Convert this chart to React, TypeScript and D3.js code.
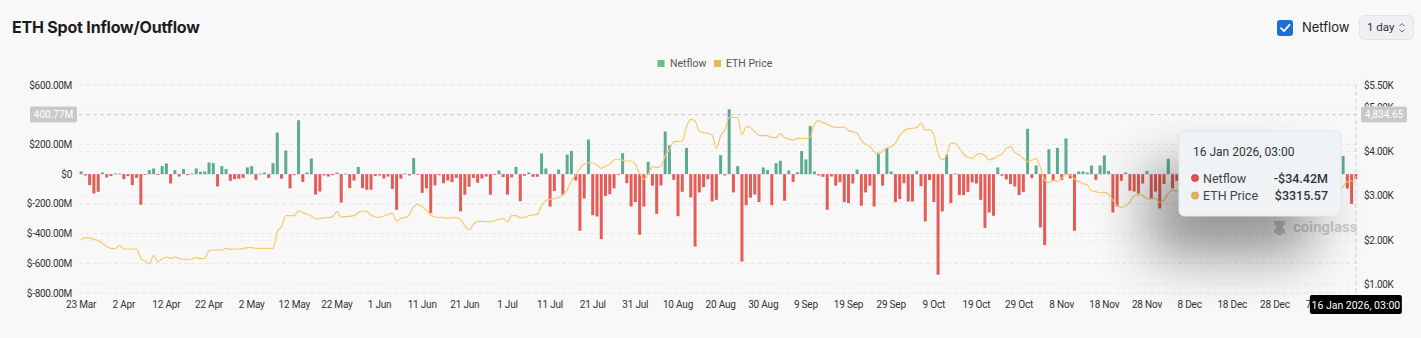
import React from 'react';
import * as d3 from 'd3';

// ---------- DATA ----------
const startDay = new Date(2025, 2, 23);
const endDay = new Date(2026, 0, 17);
const categories: Date[] = d3.timeDay.range(startDay, endDay); // 300 daily points

const xTickLabels = [
  '23 Mar', '2 Apr', '12 Apr', '22 Apr', '2 May', '12 May', '22 May', '1 Jun', '11 Jun', '21 Jun',
  '1 Jul', '11 Jul', '21 Jul', '31 Jul', '10 Aug', '20 Aug', '30 Aug', '9 Sep', '19 Sep', '29 Sep',
  '9 Oct', '19 Oct', '29 Oct', '8 Nov', '18 Nov', '28 Nov', '8 Dec', '18 Dec', '28 Dec', '7 Jan',
];

const leftTicks = [600, 400, 200, 0, -200, -400, -600, -800];
const rightTicks = [5500, 5000, 4000, 3000, 2000, 1000];

// Netflow in $M
const netflowMarApr = [
  18, -9, -74, -130, -119, 11, -22, -13, 4, 4,
  -34, -13, -74, -25, -206, -4, 27, 38, -3, 54,
  72, -63, 27, -16, 34, -7, 4, 38, 16, 18,
  78, 74, -83, 54, 34, -45, -34, -31, -25, 45,
  54, -38, 4, 11, -25, 74, 280, -31, 159, -96,
  -7, 363, -52, 11, 105, -137, -117, -9, -16, -7,
  11, -191, 3, -94, -43, 49, -94, -105, -105, -13,
  -9, -29, -16, -99, -240,
];
const netflowJunAug = [
  -31, 4, -9, 108, -4, -126, -96, -262, -76, -7,
  -61, -43, -54, -25, -251, -139, -85, -25, -58, -29,
  -16, -139, -4, 25, -20, -137, -22, 49, -182, -11,
  11, -18, -18, 139, 38, -218, -114, 31, -139, 132,
  157, -43, -381, -164, 233, -276, -285, -437, -146, -135,
  -96, -5, 141, -61, -218, -188, -408, -218, 83, -78,
  -267, -76, 287, 193, -38, -283, -119, 177, -157, -487,
  -123, -87, -34, -184, -173,
];
const netflowAugNov = [
  128, -9, 437, -123, 54, -588, -209, -159, -137, -188,
  45, 27, -209, 74, 90, -179, 25, -52, 13, 155,
  99, 323, 18, -9, -18, -240, -16, -78, -54, -188,
  -195, -63, 31, -213, -123, -78, -218, 144, -78, 175,
  18, -188, -168, -61, -184, -184, 22, -81, -318, -40,
  -188, -677, -251, 130, -195, 4, -141, -141, -119, -56,
  -63, -173, -361, -258, -280, 45, -11, -36, -67, -83,
  -141, -119, 305, -27, 58,
];
const netflowNovJan = [
  -359, -478, 168, -45, 177, -40, 240, -29, -381, 18,
  18, 11, 58, -38, 58, 126, 22, -258, -218, -45,
  11, -112, -117, -130, -63, 22, -164, -117, -231, -67,
  103, -96, -45, -34,
  -60, 25, -90, 40, -120, -35, 15, -75, -140, 30,
  -50, -20, 60, -95, -30, -110, 10, -45, -70, 35,
  -25, -15, 80, -55, -130, 20, -40, -85, 45, -65,
  -100, 120, -30, -150, 70, -20,
  -45, 123, -97, -200, -34.42,
];
const netflow = [...netflowMarApr, ...netflowJunAug, ...netflowAugNov, ...netflowNovJan];

// ETH price in $
const priceMarApr = [
  2019, 2056, 2049, 2019, 1989, 1929, 1853, 1816, 1808, 1876,
  1801, 1801, 1801, 1793, 1590, 1530, 1462, 1650, 1515, 1575,
  1620, 1590, 1620, 1583, 1568, 1568, 1575, 1605, 1583, 1590,
  1763, 1778, 1778, 1778, 1816, 1793, 1801, 1801, 1808, 1831,
  1831, 1816, 1816, 1816, 1816, 1816, 2192, 2305, 2553, 2553,
  2553, 2665, 2620, 2583, 2545, 2477, 2492, 2508, 2508, 2530,
  2643, 2523, 2530, 2538, 2553, 2620, 2658, 2643, 2568, 2523,
  2515, 2545, 2583, 2605, 2432,
];
const priceJunAug = [
  2493, 2508, 2583, 2756, 2808, 2756, 2666, 2568, 2523, 2515,
  2515, 2493, 2508, 2508, 2463, 2327, 2229, 2357, 2425, 2425,
  2417, 2417, 2440, 2470, 2485, 2417, 2553, 2553, 2500, 2508,
  2553, 2568, 2583, 2778, 2891, 2921, 2936, 2959, 3019, 3132,
  3335, 3470, 3621, 3718, 3749, 3741, 3696, 3621, 3666, 3711,
  3809, 3831, 3801, 3786, 3786, 3711, 3508, 3373, 3485, 3658,
  3635, 3673, 3906, 4034, 4222, 4229, 4237, 4560, 4726, 4688,
  4462, 4425, 4410, 4372, 4072,
];
const priceAugNov = [
  4357, 4485, 4771, 4771, 4763, 4387, 4560, 4537, 4447, 4365,
  4357, 4357, 4312, 4312, 4402, 4312, 4282, 4259, 4297, 4297,
  4297, 4327, 4613, 4696, 4650, 4620, 4568, 4545, 4545, 4553,
  4470, 4447, 4410, 4259, 4161, 4116, 3997, 3944, 4012, 4079,
  4109, 4184, 4357, 4463, 4515, 4523, 4537, 4643, 4485, 4492,
  4372, 3959, 3809, 3921, 4184, 4191, 4071, 3944, 3869, 3846,
  3921, 3951, 3906, 3809, 3839, 3899, 3944, 4071, 4109, 3974,
  3929, 3846, 3771, 3801, 3846,
];
const priceNovJan = [
  3640, 3357, 3297, 3357, 3320, 3395, 3485, 3470, 3380, 3320,
  3275, 3244, 3109, 3094, 3064, 3079, 3034, 2906, 2778, 2741,
  2778, 2868, 3004, 3034, 3004, 2929, 2929, 2944, 2853, 2906,
  3056, 3124, 3109, 3056,
  3050, 3120, 3300, 3320, 3250, 3080, 3110, 3100, 2970, 2950,
  2830, 2830, 2980, 2980, 2990, 3000, 2960, 2950, 2930, 2920,
  2940, 2950, 2940, 2970, 2970, 3000, 3120, 3120, 3140, 3230,
  3250, 3280, 3100, 3100, 3080, 3120,
  3110, 3206, 3320, 3335, 3315.57,
];
const price = [...priceMarApr, ...priceJunAug, ...priceAugNov, ...priceNovJan];

const tooltipTitle = '16 Jan 2026, 03:00';
const pointerLeftLabel = '400.77M';
const pointerRightLabel = '4,834.65';
const pointerLeftValue = 400.77;

// ---------- LAYOUT ----------
const W = 1421;
const H = 338;
const plot = { left: 79, right: 1358, top: 85, bottom: 293 };
const GREEN = '#5caa94';
const RED = '#e35c57';
const LINE = '#f6c96c';
const FONT = 'Roboto, "Noto Sans", sans-serif';

export default function App() {
  const idx = categories.map((_, i) => i);
  const x = d3.scaleBand<number>().domain(idx).range([plot.left, plot.right]).paddingInner(0.3).paddingOuter(0.15);
  const bw = x.bandwidth();
  const cx = (i: number) => (x(i) as number) + bw / 2;
  const yL = d3.scaleLinear().domain([-800, 600]).range([plot.bottom, plot.top]);
  const yR = d3.scaleLinear().domain([808, 5500]).range([plot.bottom, plot.top]);

  const linePath = d3
    .line<number>()
    .x((_, i) => cx(i))
    .y((d) => yR(d))
    .curve(d3.curveMonotoneX)(price.slice(0, categories.length)) as string;

  const fmtL = (v: number) => (v === 0 ? '$0' : `$${v.toFixed(2)}M`);
  const fmtR = (v: number) => `$${(v / 1000).toFixed(2)}K`;
  const last = categories.length - 1;
  const nv = netflow[last];
  const nvText = `${nv < 0 ? '-' : ''}$${Math.abs(nv).toFixed(2)}M`;
  const pvText = `$${price[last].toFixed(2)}`;
  const pointerY = yL(pointerLeftValue);
  const hoverX = cx(last);
  // tick labels fully hidden behind the pointer label box are not drawn
  const hiddenLeft = (t: number) => Math.abs(yL(t) - pointerY) < 8;

  const tip = { x: 1179, y: 131, w: 162, h: 85 };

  return (
    <svg width={W} height={H} style={{ position: 'absolute', left: 0, top: 0, display: 'block' }} fontFamily={FONT}>
      <defs>
        <filter id="tipShadow" x="-100%" y="-100%" width="300%" height="300%">
          <feGaussianBlur stdDeviation="28" />
        </filter>
        <clipPath id="r5clip">
          <rect x={1360} y={0} width={60} height={pointerY - 8} />
        </clipPath>
      </defs>
      <rect x={0} y={0} width={W} height={H} fill="#f8f8f8" />

      {/* Header */}
      <text x={12} y={33} fontFamily="Inter, sans-serif" fontWeight={700} fontSize={16} fill="#1d1d1f" letterSpacing={-0.2}>
        ETH Spot Inflow/Outflow
      </text>
      <rect x={1277} y={20} width={16} height={16} rx={3} fill="#1f6fd6" />
      <path d="M1281 28.2 L1284 31.2 L1289.5 24.8" fill="none" stroke="#fff" strokeWidth={1.8} strokeLinecap="round" strokeLinejoin="round" />
      <text x={1302} y={32} fontSize={13} fill="#222" fontFamily="Inter, sans-serif">Netflow</text>
      <rect x={1359.5} y={15.5} width={54} height={24} rx={5} fill="#eef0f3" stroke="#e0e3e7" />
      <text x={1367} y={31} fontSize={11.5} fill="#333" fontFamily="Roboto, sans-serif">1 day</text>
      <path d="M1399.5 26 L1402 23.5 L1404.5 26 M1399.5 29.5 L1402 32 L1404.5 29.5" fill="none" stroke="#666" strokeWidth={1} />

      {/* Legend */}
      <rect x={657.5} y={60} width={7} height={7} fill="#6cbf8a" />
      <text x={670} y={67} fontSize={10.5} fill="#555">Netflow</text>
      <rect x={714} y={60} width={7} height={7} fill="#eeb84c" />
      <text x={726} y={67} fontSize={10.5} fill="#555">ETH Price</text>

      {/* Grid */}
      {leftTicks.map((t) => (
        <line key={'gl' + t} x1={plot.left} x2={plot.right} y1={yL(t)} y2={yL(t)} stroke="#e6e6e6" strokeDasharray="4,3" />
      ))}
      {rightTicks.map((t) => (
        <line key={'gr' + t} x1={plot.left} x2={plot.right} y1={yR(t)} y2={yR(t)} stroke="#ececec" strokeDasharray="4,3" />
      ))}

      {/* Axis labels */}
      {leftTicks.filter((t) => !hiddenLeft(t)).map((t) => (
        <text key={'tl' + t} x={72} y={yL(t) + 3.5} fontSize={10} textAnchor="end" fill="#333" letterSpacing={-0.3}>
          {fmtL(t)}
        </text>
      ))}
      {rightTicks.map((t) => (
        <text
          key={'tr' + t}
          x={1364}
          y={yR(t) + 3.5}
          fontSize={10}
          textAnchor="start"
          fill="#333"
          letterSpacing={-0.3}
          clipPath={t === 5000 ? 'url(#r5clip)' : undefined}
        >
          {fmtR(t)}
        </text>
      ))}
      {xTickLabels.map((lab, k) => (
        <text key={'x' + k} x={cx(k * 10)} y={308} fontSize={10} textAnchor="middle" fill="#333" letterSpacing={-0.2}>
          {lab}
        </text>
      ))}

      {/* Bars */}
      {netflow.slice(0, categories.length).map((v, i) => (
        <rect
          key={'b' + i}
          x={x(i) as number}
          width={bw}
          y={v >= 0 ? yL(v) : yL(0)}
          height={Math.max(0.8, Math.abs(yL(v) - yL(0)))}
          fill={v >= 0 ? GREEN : RED}
        />
      ))}

      {/* Price line */}
      <path d={linePath} fill="none" stroke={LINE} strokeWidth={1.2} />

      {/* Crosshair */}
      <line x1={plot.left} x2={plot.right} y1={pointerY} y2={pointerY} stroke="#cfcfcf" strokeDasharray="4,3" />
      <line x1={hoverX} x2={hoverX} y1={plot.top} y2={plot.bottom} stroke="#cfcfcf" strokeDasharray="4,3" />
      <rect x={30} y={pointerY - 8} width={47} height={16} rx={2} fill="#c9c9c9" />
      <text x={53.5} y={pointerY + 3.5} fontSize={10} textAnchor="middle" fill="#fff">{pointerLeftLabel}</text>
      <rect x={1361} y={pointerY - 8} width={46} height={16} rx={2} fill="#c9c9c9" />
      <text x={1384} y={pointerY + 3.5} fontSize={10} textAnchor="middle" fill="#fff">{pointerRightLabel}</text>
      <rect x={hoverX - 46} y={295} width={92} height={19} rx={2} fill="#000" />
      <text x={hoverX} y={308.5} fontSize={10.5} textAnchor="middle" fill="#fff">{tooltipTitle}</text>

      {/* Watermark */}
      <g fill="#cacaca">
        <path d="M1274 221 h11 v4 h-2 v4 h2 v4 h-3 v2 h-5 v-2 h-3 v-4 h2 v-4 h-2 z" />
      </g>
      <text x={1293} y={232} fontSize={15} fontWeight={600} fill="#cacaca">coinglass</text>

      {/* Tooltip */}
      <rect x={tip.x - 30} y={tip.y + 38} width={tip.w} height={tip.h} rx={6} fill="#000" opacity={0.42} filter="url(#tipShadow)" />
      <rect x={tip.x} y={tip.y} width={tip.w} height={tip.h} rx={5} fill="#f0f3f6" stroke="#e2e6ea" />
      <text x={tip.x + 14} y={tip.y + 25} fontSize={12} fill="#333">{tooltipTitle}</text>
      <circle cx={tip.x + 16} cy={tip.y + 47} r={3.6} fill="#e0514c" stroke="#a33" strokeWidth={0.6} />
      <text x={tip.x + 24} y={tip.y + 51.5} fontSize={12.5} fill="#444">Netflow</text>
      <text x={tip.x + 149} y={tip.y + 51.5} fontSize={12.5} fill="#333" textAnchor="end" fontWeight={500}>{nvText}</text>
      <circle cx={tip.x + 16} cy={tip.y + 64.5} r={3.6} fill="#e8b442" stroke="#a88" strokeWidth={0.6} />
      <text x={tip.x + 24} y={tip.y + 69} fontSize={12.5} fill="#444">ETH Price</text>
      <text x={tip.x + 149} y={tip.y + 69} fontSize={12.5} fill="#333" textAnchor="end" fontWeight={500}>{pvText}</text>
    </svg>
  );
}
